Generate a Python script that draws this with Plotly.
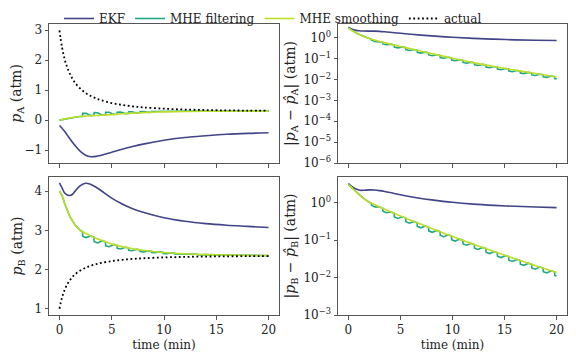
import numpy as np
import plotly.graph_objects as go

# ---------------- data ----------------
T = [0, 0.25, 0.5, 0.75, 1, 1.25, 1.5, 2, 2.5, 3, 3.5, 4, 5, 6, 7, 8, 10, 12, 14, 16, 18, 20]

pA_actual = [3.000, 2.424, 2.033, 1.753, 1.543, 1.378, 1.247, 1.050, 0.910, 0.806, 0.726,
             0.663, 0.570, 0.507, 0.461, 0.427, 0.382, 0.355, 0.338, 0.327, 0.320, 0.3155]
pB_actual = [1.000, 1.288, 1.484, 1.624, 1.729, 1.811, 1.877, 1.975, 2.045, 2.097, 2.137,
             2.169, 2.215, 2.247, 2.270, 2.287, 2.309, 2.323, 2.331, 2.337, 2.340, 2.342]

pA_ekf = [-0.18, -0.27, -0.38, -0.50, -0.62, -0.74, -0.85, -1.04, -1.17, -1.22, -1.21,
          -1.17, -1.07, -0.97, -0.88, -0.80, -0.67, -0.58, -0.52, -0.47, -0.44, -0.42]
pB_ekf = [4.21, 4.08, 3.95, 3.90, 3.89, 3.92, 4.00, 4.14, 4.20, 4.17, 4.10,
          4.01, 3.82, 3.67, 3.55, 3.46, 3.32, 3.23, 3.17, 3.13, 3.10, 3.07]

# MHE smoothing errors |p - p_hat| on T
errA_smooth = [3.0, 2.404, 1.993, 1.693, 1.468, 1.29, 1.147, 0.93, 0.775, 0.656, 0.569,
               0.50, 0.385, 0.295, 0.226, 0.174, 0.1047, 0.0646, 0.0417, 0.0282, 0.0193, 0.0133]
errB_smooth = [3.0, 2.6, 2.2, 1.9, 1.62, 1.43, 1.26, 1.02, 0.88, 0.76, 0.66,
               0.575, 0.4385, 0.3373, 0.2612, 0.2032, 0.1245, 0.0776, 0.0492, 0.0316, 0.0206, 0.0136]

# MHE filtering errors (sawtooth) on their own time points
T_filt_err = [0, 0.25, 0.5, 0.75, 1, 1.25, 1.5, 2,
              2.2, 2.22, 2.55, 3.0, 3.3, 3.32, 3.65, 4.1, 4.4, 4.42, 4.75, 5.2,
              5.5, 5.52, 5.85, 6.3, 6.6, 6.62, 6.95, 7.4, 7.7, 7.72, 8.05, 8.5,
              8.8, 8.82, 9.15, 9.6, 9.9, 9.92, 10.25, 10.7, 11.0, 11.02, 11.35, 11.8,
              12.1, 12.12, 12.45, 12.9, 13.2, 13.22, 13.55, 14.0, 14.3, 14.32, 14.65, 15.1,
              15.4, 15.42, 15.75, 16.2, 16.5, 16.52, 16.85, 17.3, 17.6, 17.62, 17.95, 18.4,
              18.7, 18.72, 19.05, 19.5, 19.8, 19.82, 20.0]
errA_filt = [3.0, 2.404, 1.993, 1.693, 1.468, 1.29, 1.147, 0.93,
             0.865, 0.761, 0.671, 0.656, 0.605, 0.508, 0.463, 0.488, 0.451, 0.361, 0.329, 0.365,
             0.337, 0.270, 0.246, 0.273, 0.252, 0.201, 0.184, 0.204, 0.188, 0.150, 0.137, 0.153,
             0.142, 0.1135, 0.104, 0.116, 0.1074, 0.0859, 0.0789, 0.0884, 0.0822, 0.0658, 0.0604, 0.0678,
             0.0632, 0.0505, 0.0468, 0.0530, 0.0497, 0.0397, 0.0368, 0.0417, 0.0393, 0.0315, 0.0293, 0.0336,
             0.0317, 0.0254, 0.0237, 0.0271, 0.0256, 0.0205, 0.0192, 0.0220, 0.0208, 0.0166, 0.0156, 0.0179,
             0.01694, 0.01355, 0.0127, 0.01462, 0.01384, 0.0111, 0.0107]
errB_filt = [3.0, 2.6, 2.2, 1.9, 1.62, 1.43, 1.26, 1.02,
             0.962, 0.847, 0.763, 0.76, 0.699, 0.587, 0.533, 0.560, 0.516, 0.413, 0.375, 0.416,
             0.385, 0.308, 0.281, 0.3124, 0.2892, 0.2314, 0.2117, 0.2362, 0.2191, 0.1753, 0.1606, 0.1797,
             0.1670, 0.1336, 0.1226, 0.1373, 0.1275, 0.1020, 0.0938, 0.1055, 0.0983, 0.0786, 0.0724, 0.0814,
             0.0759, 0.0607, 0.0560, 0.0632, 0.0590, 0.0472, 0.0436, 0.0492, 0.0460, 0.0368, 0.0341, 0.0386,
             0.0361, 0.0289, 0.0267, 0.0303, 0.0284, 0.0227, 0.0211, 0.0239, 0.0224, 0.0179, 0.0166, 0.0190,
             0.0178, 0.0143, 0.0133, 0.0151, 0.0142, 0.0113, 0.0109]

# MHE filtering state estimates
T_filt = [0, 0.25, 0.5, 0.75, 1, 1.25, 1.5, 2,
          2.2, 2.22, 2.55, 3.0, 3.3, 3.32, 3.65, 4.1, 4.4, 4.42, 4.75, 5.2,
          5.5, 5.52, 5.85, 6.3, 6.6, 6.62, 6.95, 7.4, 7.7, 7.72, 8.05, 8.5,
          8.8, 8.82, 9.15, 9.6, 9.9, 9.92, 10.25, 10.7, 11.0, 11.02, 11.35, 11.8,
          12.1, 12.12, 12.45, 12.9, 13.2, 13.22, 13.55, 14.0, 16, 18, 20]
pA_filt = [0.0, 0.02, 0.04, 0.06, 0.075, 0.088, 0.10, 0.12,
           0.126, 0.230, 0.228, 0.150, 0.154, 0.251, 0.247, 0.165, 0.172, 0.262, 0.262, 0.190,
           0.1985, 0.266, 0.269, 0.219, 0.226, 0.276, 0.280, 0.242, 0.248, 0.285, 0.288, 0.259,
           0.263, 0.291, 0.293, 0.272, 0.276, 0.297, 0.298, 0.2816, 0.2835, 0.300, 0.301, 0.2887,
           0.2903, 0.303, 0.303, 0.2927, 0.2936, 0.3035, 0.3039, 0.296, 0.299, 0.301, 0.302]
pB_filt = [4.0, 3.888, 3.684, 3.524, 3.349, 3.241, 3.137, 2.995,
           2.967, 2.851, 2.814, 2.857, 2.821, 2.708, 2.680, 2.735, 2.708, 2.603, 2.583, 2.640,
           2.619, 2.541, 2.524, 2.568, 2.552, 2.493, 2.481, 2.5146, 2.5023, 2.458, 2.4485, 2.4759,
           2.4674, 2.434, 2.4268, 2.4548, 2.4363, 2.4108, 2.4059, 2.4221, 2.4173, 2.3976, 2.3935, 2.4043,
           2.400, 2.3848, 2.3823, 2.3916, 2.3884, 2.3766, 2.3738, 2.380, 2.369, 2.361, 2.356]

x_ticks = [0, 5, 10, 15, 20]
yA_ticks = [-1, 0, 1, 2, 3]
yB_ticks = [1, 2, 3, 4]
errA_ticks = [1e-6, 1e-5, 1e-4, 1e-3, 1e-2, 1e-1, 1]
errA_labels = ["10<sup>−6</sup>", "10<sup>−5</sup>", "10<sup>−4</sup>", "10<sup>−3</sup>",
               "10<sup>−2</sup>", "10<sup>−1</sup>", "10<sup>0</sup>"]
errB_ticks = [1e-3, 1e-2, 1e-1, 1]
errB_labels = ["10<sup>−3</sup>", "10<sup>−2</sup>", "10<sup>−1</sup>", "10<sup>0</sup>"]

# derived series
aA = np.array(pA_actual); aB = np.array(pB_actual)
pA_smooth = aA - np.array(errA_smooth)
pB_smooth = aB + np.array(errB_smooth)
errA_ekf = np.abs(aA - np.array(pA_ekf))
errB_ekf = np.abs(aB - np.array(pB_ekf))

# ---------------- styling ----------------
C_EKF = "#414487"
C_FILT = "#22a884"
C_SMOOTH = "#bddf26"
FONT = "DejaVu Serif"
LW = 1.6
DOT = "1.8px,2.6px"

fig = go.Figure()

def add(x, y, color, name, xa, ya, show, dash=None, shape="spline", width=LW):
    fig.add_trace(go.Scatter(
        x=x, y=y, mode="lines", name=name, showlegend=show, legendgroup=name,
        line=dict(color=color, width=width, dash=dash, shape=shape),
        xaxis=xa, yaxis=ya, hoverinfo="skip"))

# top-left: p_A
add(T, pA_ekf, C_EKF, "EKF", "x", "y", True)
add(T_filt, pA_filt, C_FILT, "MHE filtering", "x", "y", True, shape="linear")
add(T, pA_smooth, C_SMOOTH, "MHE smoothing", "x", "y", True)
add(T, pA_actual, "black", "actual", "x", "y", True, dash=DOT, width=1.8)
# top-right: error A
add(T, errA_ekf, C_EKF, "EKF", "x2", "y2", False)
add(T_filt_err, errA_filt, C_FILT, "MHE filtering", "x2", "y2", False, shape="linear")
add(T, errA_smooth, C_SMOOTH, "MHE smoothing", "x2", "y2", False)
# bottom-left: p_B
add(T, pB_ekf, C_EKF, "EKF", "x3", "y3", False)
add(T_filt, pB_filt, C_FILT, "MHE filtering", "x3", "y3", False, shape="linear")
add(T, pB_smooth, C_SMOOTH, "MHE smoothing", "x3", "y3", False)
add(T, pB_actual, "black", "actual", "x3", "y3", False, dash=DOT, width=1.8)
# bottom-right: error B
add(T, errB_ekf, C_EKF, "EKF", "x4", "y4", False)
add(T_filt_err, errB_filt, C_FILT, "MHE filtering", "x4", "y4", False, shape="linear")
add(T, errB_smooth, C_SMOOTH, "MHE smoothing", "x4", "y4", False)

axis_common = dict(showgrid=False, zeroline=False, showline=True, linecolor="#555555",
                   linewidth=1, mirror=True, ticks="outside", ticklen=3.5, tickwidth=1,
                   tickcolor="#555555", tickfont=dict(family=FONT, size=12, color="#222"))

# page body has an 8px offset: figure is 568x352 placed at (8, 8)
W, H, OFF = 568, 352, 8
def dx(a, b):
    return [(a - OFF) / W, (b - OFF) / W]
def dy(top, bottom):
    return [1 - (bottom - OFF) / H, 1 - (top - OFF) / H]

dx_left = dx(49, 279)
dx_right = dx(338, 567)
dy_top = dy(24, 163)
dy_bot = dy(177, 315)

xa_title = dict(text="time (min)", font=dict(family=FONT, size=12, color="#222"), standoff=4)

fig.update_layout(
    width=W, height=H, margin=dict(l=0, r=0, t=0, b=0, autoexpand=False),
    paper_bgcolor="white", plot_bgcolor="white",
    font=dict(family=FONT, size=12, color="#222"),
    xaxis=dict(axis_common, domain=dx_left, anchor="y", range=[-1, 21], tickvals=x_ticks, showticklabels=False),
    yaxis=dict(axis_common, domain=dy_top, anchor="x", range=[-1.43, 3.21], tickvals=yA_ticks,
               title=dict(text="<i>p</i><sub>A</sub> (atm)", standoff=8)),
    xaxis2=dict(axis_common, domain=dx_right, anchor="y2", range=[-1, 21], tickvals=x_ticks, showticklabels=False),
    yaxis2=dict(axis_common, domain=dy_top, anchor="x2", type="log", range=[-6, 0.66],
                tickvals=errA_ticks, ticktext=errA_labels,
                title=dict(text="|<i>p</i><sub>A</sub> − <i>p̂</i><sub>A</sub>| (atm)", standoff=4)),
    xaxis3=dict(axis_common, domain=dx_left, anchor="y3", range=[-1, 21], tickvals=x_ticks, title=xa_title),
    yaxis3=dict(axis_common, domain=dy_bot, anchor="x3", range=[0.84, 4.36], tickvals=yB_ticks,
                title=dict(text="<i>p</i><sub>B</sub> (atm)", standoff=8)),
    xaxis4=dict(axis_common, domain=dx_right, anchor="y4", range=[-1, 21], tickvals=x_ticks, title=xa_title),
    yaxis4=dict(axis_common, domain=dy_bot, anchor="x4", type="log", range=[-3, 0.68],
                tickvals=errB_ticks, ticktext=errB_labels,
                title=dict(text="|<i>p</i><sub>B</sub> − <i>p̂</i><sub>B</sub>| (atm)", standoff=4)),
    legend=dict(orientation="h", x=265 / W, xanchor="center", y=1 + 4 / H, yanchor="top",
                bgcolor="rgba(0,0,0,0)", font=dict(family=FONT, size=12, color="#222"),
                itemwidth=30, tracegroupgap=0),
)

fig.write_html("out.html")
